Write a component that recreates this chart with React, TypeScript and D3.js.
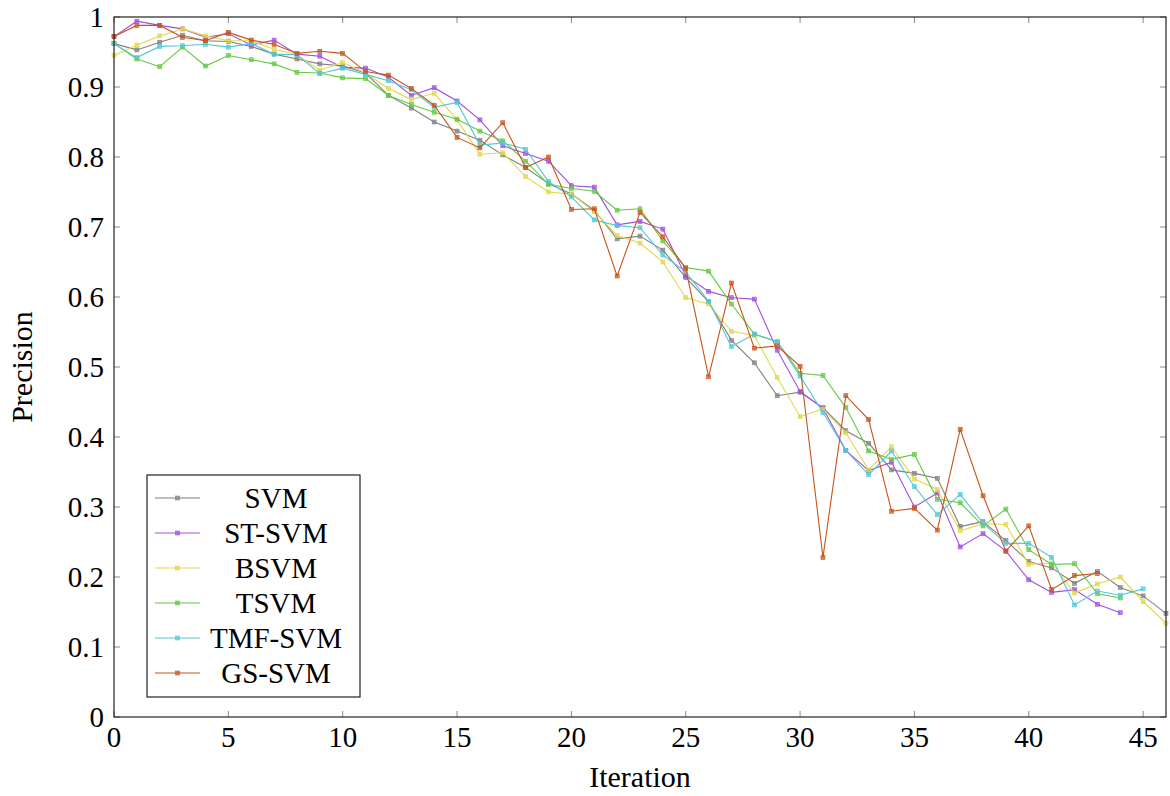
import React from "react";
import * as d3 from "d3";

const seriesNames = ["SVM", "ST-SVM", "BSVM", "TSVM", "TMF-SVM", "GS-SVM"];
const seriesColors = ["#808080", "#a04ee0", "#e3d74c", "#62c93e", "#52c8d6", "#c9541b"];

const svm = [0.962, 0.953, 0.964, 0.974, 0.966, 0.965, 0.958, 0.947, 0.94, 0.933, 0.93, 0.92, 0.888, 0.87, 0.85, 0.837, 0.824, 0.803, 0.785, 0.762, 0.747, 0.724, 0.683, 0.687, 0.667, 0.628, 0.593, 0.538, 0.506, 0.459, 0.464, 0.442, 0.409, 0.391, 0.353, 0.348, 0.341, 0.272, 0.279, 0.252, 0.222, 0.213, 0.191, 0.208, 0.185, 0.173, 0.148];
const stSvm = [0.972, 0.994, 0.988, 0.983, 0.971, 0.976, 0.96, 0.967, 0.947, 0.944, 0.928, 0.927, 0.914, 0.888, 0.899, 0.88, 0.853, 0.816, 0.805, 0.794, 0.759, 0.757, 0.703, 0.708, 0.697, 0.63, 0.608, 0.599, 0.597, 0.524, 0.465, 0.441, 0.381, 0.352, 0.364, 0.3, 0.32, 0.243, 0.262, 0.237, 0.196, 0.178, 0.182, 0.161, 0.149];
const bsvm = [0.945, 0.96, 0.973, 0.983, 0.973, 0.966, 0.966, 0.954, 0.946, 0.924, 0.935, 0.92, 0.898, 0.882, 0.891, 0.853, 0.804, 0.806, 0.772, 0.75, 0.747, 0.722, 0.688, 0.677, 0.65, 0.599, 0.59, 0.551, 0.545, 0.485, 0.429, 0.44, 0.406, 0.353, 0.386, 0.34, 0.325, 0.266, 0.276, 0.275, 0.218, 0.22, 0.177, 0.19, 0.2, 0.165, 0.134];
const tsvm = [0.962, 0.94, 0.929, 0.957, 0.93, 0.945, 0.939, 0.933, 0.921, 0.92, 0.913, 0.912, 0.888, 0.875, 0.864, 0.854, 0.837, 0.823, 0.794, 0.761, 0.755, 0.751, 0.724, 0.726, 0.68, 0.642, 0.637, 0.59, 0.547, 0.536, 0.491, 0.488, 0.442, 0.38, 0.368, 0.375, 0.311, 0.306, 0.273, 0.297, 0.239, 0.218, 0.219, 0.176, 0.17];
const tmfSvm = [0.962, 0.942, 0.958, 0.959, 0.961, 0.957, 0.962, 0.947, 0.946, 0.919, 0.927, 0.918, 0.909, 0.896, 0.871, 0.878, 0.817, 0.82, 0.811, 0.765, 0.743, 0.71, 0.702, 0.699, 0.66, 0.636, 0.594, 0.529, 0.547, 0.536, 0.487, 0.435, 0.381, 0.346, 0.38, 0.329, 0.289, 0.318, 0.277, 0.248, 0.248, 0.228, 0.16, 0.18, 0.174, 0.183];
const gsSvm = [0.972, 0.988, 0.988, 0.971, 0.966, 0.978, 0.967, 0.961, 0.948, 0.951, 0.948, 0.922, 0.917, 0.898, 0.874, 0.828, 0.813, 0.849, 0.785, 0.8, 0.725, 0.726, 0.63, 0.721, 0.686, 0.641, 0.486, 0.62, 0.527, 0.53, 0.501, 0.228, 0.459, 0.425, 0.294, 0.298, 0.267, 0.411, 0.316, 0.237, 0.273, 0.182, 0.202, 0.205];

const seriesValues = [svm, stSvm, bsvm, tsvm, tmfSvm, gsSvm];

const xTicks = [0, 5, 10, 15, 20, 25, 30, 35, 40, 45];
const yTicks = [0, 0.1, 0.2, 0.3, 0.4, 0.5, 0.6, 0.7, 0.8, 0.9, 1];
const yTickLabels = ["0", "0.1", "0.2", "0.3", "0.4", "0.5", "0.6", "0.7", "0.8", "0.9", "1"];

const W = 1170, H = 796;
const L = 114, R = 1166, T = 17, B = 717;
const FONT = "'Liberation Serif', 'DejaVu Serif', serif";

export default function App() {
  const x = d3.scaleLinear().domain([0, 46]).range([L, R]);
  const y = d3.scaleLinear().domain([0, 1]).range([B, T]);
  const line = d3.line<number>().x((_, i) => x(i)).y((d) => y(d));
  const tl = 6;

  const legX = 147, legY = 475, legW = 213, legH = 222;
  const rowH = 35;

  return (
    <svg width={W} height={H} style={{ position: "absolute", left: 0, top: 0, background: "#fff" }} fontFamily={FONT}>
      <rect x={0} y={0} width={W} height={H} fill="#fff" />
      {/* ticks */}
      {xTicks.map((t) => (
        <g key={"xt" + t}>
          <line x1={x(t)} x2={x(t)} y1={B} y2={B - tl} stroke="#888" strokeWidth={1} />
          <line x1={x(t)} x2={x(t)} y1={T} y2={T + tl} stroke="#888" strokeWidth={1} />
          <text x={x(t)} y={B + 30} fontSize={29} textAnchor="middle" fill="#000">{t}</text>
        </g>
      ))}
      {yTicks.map((t, i) => (
        <g key={"yt" + t}>
          <line x1={L} x2={L + tl} y1={y(t)} y2={y(t)} stroke="#888" strokeWidth={1} />
          <line x1={R} x2={R - tl} y1={y(t)} y2={y(t)} stroke="#888" strokeWidth={1} />
          <text x={L - 10} y={y(t) + 10} fontSize={29} textAnchor="end" fill="#000">{yTickLabels[i]}</text>
        </g>
      ))}
      {/* series */}
      {seriesValues.map((vals, si) => (
        <g key={"s" + si}>
          <path d={line(vals) || ""} fill="none" stroke={seriesColors[si]} strokeWidth={1.1} />
          {vals.map((v, i) => (
            <rect key={i} x={x(i) - 2} y={y(v) - 2} width={4} height={4} fill={seriesColors[si]} fillOpacity={0.7} stroke={seriesColors[si]} strokeWidth={0.6} />
          ))}
        </g>
      ))}
      {/* frame */}
      <rect x={L} y={T} width={R - L} height={B - T} fill="none" stroke="#222" strokeWidth={1.2} />
      {/* legend */}
      <rect x={legX} y={legY} width={legW} height={legH} fill="#fff" stroke="#222" strokeWidth={1.2} />
      {seriesNames.map((n, i) => {
        const cy = legY + 23 + i * rowH;
        return (
          <g key={"l" + i}>
            <line x1={155} x2={200} y1={cy} y2={cy} stroke={seriesColors[i]} strokeWidth={1.1} />
            <rect x={175.5} y={cy - 2} width={4} height={4} fill={seriesColors[i]} fillOpacity={0.7} stroke={seriesColors[i]} strokeWidth={0.6} />
            <text x={276} y={cy + 10} fontSize={29} textAnchor="middle" fill="#000">{n}</text>
          </g>
        );
      })}
      {/* axis labels */}
      <text x={(L + R) / 2} y={787} fontSize={30} textAnchor="middle" fill="#000">Iteration</text>
      <text transform={`translate(32, ${(T + B) / 2}) rotate(-90)`} fontSize={30} textAnchor="middle" fill="#000">Precision</text>
    </svg>
  );
}
